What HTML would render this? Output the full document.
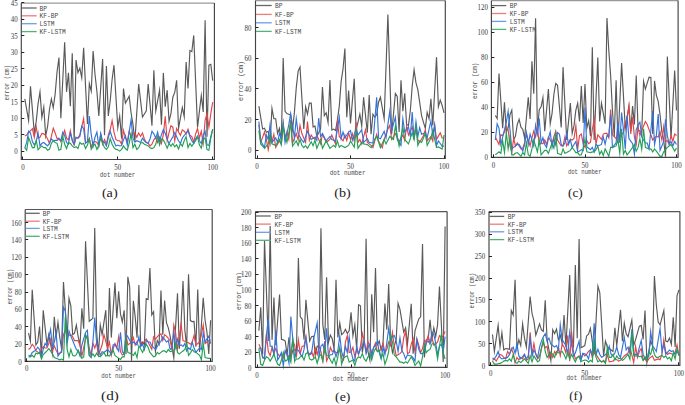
<!DOCTYPE html><html><head><meta charset="utf-8"><style>
html,body{margin:0;padding:0;background:#fff;width:685px;height:405px;overflow:hidden}
svg{display:block}
.t{font-family:"Liberation Serif",serif;font-size:8.2px;fill:#3a3a3a}
.m{font-family:"Liberation Mono",monospace;fill:#4a4a4a}
.c{font-family:"Liberation Serif",serif;font-size:13.2px;fill:#1a1a1a}
</style></head><body>
<svg width="685" height="405" viewBox="0 0 685 405">

<polyline points="24.8,98.89 26.7,109.63 28.59,120.37 30.49,86.22 32.39,109.59 34.29,132.96 36.19,121.64 38.08,103.59 39.98,91.85 41.88,117.41 43.78,107.04 45.68,135.93 47.57,126.74 49.47,109.46 51.37,98.89 53.27,107.78 55.17,93.9 57.06,71.77 58.96,57.48 60.86,118.15 62.76,80.19 64.66,42.22 66.55,91.85 68.45,72.89 70.35,106.3 72.25,53.33 74.15,141.85 76.04,60 77.94,72.59 79.84,68.15 81.74,77.78 83.64,47.7 85.53,85.89 87.43,124.07 89.33,83.7 91.23,91.11 93.13,51.11 95.02,74.46 96.92,91.5 98.82,115.93 100.72,87.44 102.62,58.96 104.51,135.19 106.41,65.93 108.31,115.93 110.21,100.7 112.11,79.46 114,65.19 115.9,96.37 117.8,127.56 119.7,116.11 121.6,138.58 123.49,88.46 125.39,103.15 127.29,99.69 129.19,96.23 131.09,112.98 132.98,124.38 134.88,141.17 136.78,112.65 138.68,84.14 140.58,100.56 142.47,116.98 144.37,113.95 146.27,110.93 148.17,84.14 150.07,104.88 151.96,125.62 153.86,70.31 155.76,110.93 157.66,100.56 159.56,90.19 161.45,124.75 163.35,72.9 165.25,106.6 167.15,90.19 169.05,121.3 170.94,113.67 172.84,97.23 174.74,92.47 176.64,80.33 178.54,128.21 180.43,117.84 182.33,107.47 184.23,116.77 186.13,62.01 188.03,88.46 189.92,50.43 191.82,51.64 193.72,35.4 195.62,81.37 197.52,127.35 199.41,111.36 201.31,95.37 203.21,111.93 205.11,20.19 207.01,136.85 208.9,65.12 210.8,64.26 212.7,80.68" fill="none" stroke="#595959" stroke-width="1.15" stroke-linejoin="miter" stroke-miterlimit="10"/>
<polyline points="24.8,135.99 26.7,135.12 28.59,132.1 30.49,130.8 32.39,128.64 34.29,137.28 36.19,126.91 38.08,138.15 39.98,137.28 41.88,133.4 43.78,133.83 45.68,135.56 47.57,139.01 49.47,143.33 51.37,136.42 53.27,128.21 55.17,132.96 57.06,138.58 58.96,138.15 60.86,141.6 62.76,136.42 64.66,130.37 66.55,138.15 68.45,139.88 70.35,130.8 72.25,140.74 74.15,145.06 76.04,137.28 77.94,138.15 79.84,134.69 81.74,126.91 83.64,118.53 85.53,142.47 87.43,142.04 89.33,138.15 91.23,146.79 93.13,142.47 95.02,141.6 96.92,142.47 98.82,145.93 100.72,134.26 102.62,144.2 104.51,139.44 106.41,144.2 108.31,135.12 110.21,129.51 112.11,120.69 114,132.1 115.9,139.44 117.8,140.74 119.7,140.74 121.6,144.2 123.49,130.37 125.39,137.28 127.29,141.6 129.19,131.23 131.09,136.42 132.98,133.83 134.88,132.96 136.78,137.28 138.68,132.96 140.58,136.42 142.47,132.96 144.37,139.01 146.27,142.47 148.17,143.33 150.07,145.93 151.96,144.2 153.86,139.88 155.76,137.28 157.66,142.47 159.56,137.28 161.45,143.33 163.35,134.69 165.25,116.3 167.15,140.74 169.05,132.59 170.94,125.8 172.84,127.16 174.74,140.74 176.64,128.52 178.54,131.91 180.43,135.31 182.33,129.88 184.23,131.23 186.13,133.95 188.03,129.2 189.92,135.31 191.82,136.67 193.72,142.1 195.62,133.95 197.52,128.52 199.41,138.02 201.31,131.23 203.21,143.46 205.11,120.37 207.01,113.58 208.9,127.16 210.8,113.58 212.7,102.04" fill="none" stroke="#e2454a" stroke-width="1.15" stroke-linejoin="miter" stroke-miterlimit="10"/>
<polyline points="24.8,147.87 26.7,142.47 28.59,131.23 30.49,132.96 32.39,141.6 34.29,145.06 36.19,141.6 38.08,132.96 39.98,145.93 41.88,143.33 43.78,142.47 45.68,144.2 47.57,145.93 49.47,143.33 51.37,139.01 53.27,140.74 55.17,140.31 57.06,140.31 58.96,139.01 60.86,140.74 62.76,132.1 64.66,135.56 66.55,142.47 68.45,144.2 70.35,132.96 72.25,139.88 74.15,144.2 76.04,137.28 77.94,138.15 79.84,136.42 81.74,126.05 83.64,128.64 85.53,143.33 87.43,141.6 89.33,116.11 91.23,134.69 93.13,145.93 95.02,137.28 96.92,132.1 98.82,145.93 100.72,133.4 102.62,141.6 104.51,142.47 106.41,145.93 108.31,137.28 110.21,131.23 112.11,137.28 114,141.6 115.9,145.93 117.8,145.06 119.7,145.93 121.6,145.49 123.49,139.88 125.39,135.56 127.29,145.06 129.19,132.1 131.09,119.57 132.98,138.15 134.88,142.04 136.78,140.74 138.68,141.6 140.58,142.47 142.47,138.15 144.37,140.74 146.27,142.47 148.17,143.33 150.07,139.01 151.96,131.23 153.86,133.83 155.76,138.15 157.66,132.1 159.56,141.6 161.45,134.69 163.35,129.51 165.25,133.4 167.15,139.38 169.05,143.46 170.94,140.06 172.84,136.67 174.74,132.59 176.64,136.67 178.54,140.74 180.43,143.46 182.33,138.02 184.23,135.31 186.13,133.27 188.03,130.56 189.92,136.67 191.82,140.74 193.72,143.46 195.62,138.7 197.52,135.99 199.41,140.74 201.31,143.46 203.21,135.31 205.11,131.23 207.01,144.81 208.9,145.49 210.8,136.67 212.7,129.2" fill="none" stroke="#3573d9" stroke-width="1.15" stroke-linejoin="miter" stroke-miterlimit="10"/>
<polyline points="24.8,147.65 26.7,150.25 28.59,137.72 30.49,142.47 32.39,147.65 34.29,147.65 36.19,140.31 38.08,149.81 39.98,147.65 41.88,145.93 43.78,147.65 45.68,147.65 47.57,150.25 49.47,149.38 51.37,143.33 53.27,140.74 55.17,142.47 57.06,143.33 58.96,150.25 60.86,149.38 62.76,136.42 64.66,144.2 66.55,148.52 68.45,142.76 70.35,143.33 72.25,145.93 74.15,147.65 76.04,146.79 77.94,148.52 79.84,142.47 81.74,144.2 83.64,143.33 85.53,148.52 87.43,145.06 89.33,139.01 91.23,149.38 93.13,145.93 95.02,144.2 96.92,149.38 98.82,145.06 100.72,138.15 102.62,143.33 104.51,147.65 106.41,149.38 108.31,146.79 110.21,138.58 112.11,144.2 114,147.65 115.9,149.38 117.8,149.81 119.7,151.11 121.6,149.38 123.49,145.93 125.39,148.52 127.29,150.25 129.19,143.33 131.09,133.83 132.98,147.65 134.88,144.2 136.78,149.38 138.68,147.65 140.58,143.33 142.47,142.47 144.37,144.2 146.27,145.06 148.17,145.93 150.07,147.65 151.96,148.52 153.86,147.65 155.76,144.2 157.66,136.42 159.56,145.06 161.45,139.01 163.35,139.88 165.25,143.64 167.15,148.21 169.05,143.46 170.94,146.17 172.84,143.46 174.74,146.85 176.64,144.81 178.54,148.89 180.43,143.46 182.33,146.17 184.23,140.74 186.13,136.67 188.03,147.53 189.92,143.46 191.82,146.17 193.72,143.46 195.62,140.74 197.52,136.67 199.41,144.81 201.31,148.21 203.21,139.38 205.11,138.02 207.01,149.57 208.9,150.25 210.8,138.02 212.7,129.2" fill="none" stroke="#23a055" stroke-width="1.15" stroke-linejoin="miter" stroke-miterlimit="10"/>
<path d="M21.3 3.1H214.4" stroke="#999" stroke-width="1.4" fill="none"/>
<path d="M21.3 3.1V159.5H214.4V3.1" stroke="#444" stroke-width="1.15" fill="none"/>
<path d="M21.3 151.5h3" stroke="#222" stroke-width="1"/>
<text class="t" x="17.6" y="154.4" text-anchor="end" textLength="3.45" lengthAdjust="spacingAndGlyphs">0</text>
<path d="M21.3 134.5h3" stroke="#222" stroke-width="1"/>
<text class="t" x="17.6" y="137.9" text-anchor="end" textLength="3.45" lengthAdjust="spacingAndGlyphs">5</text>
<path d="M21.3 118.5h3" stroke="#222" stroke-width="1"/>
<text class="t" x="17.6" y="121.4" text-anchor="end" textLength="6.9" lengthAdjust="spacingAndGlyphs">10</text>
<path d="M21.3 101.5h3" stroke="#222" stroke-width="1"/>
<text class="t" x="17.6" y="104.9" text-anchor="end" textLength="6.9" lengthAdjust="spacingAndGlyphs">15</text>
<path d="M21.3 85.5h3" stroke="#222" stroke-width="1"/>
<text class="t" x="17.6" y="88.4" text-anchor="end" textLength="6.9" lengthAdjust="spacingAndGlyphs">20</text>
<path d="M21.3 68.5h3" stroke="#222" stroke-width="1"/>
<text class="t" x="17.6" y="71.9" text-anchor="end" textLength="6.9" lengthAdjust="spacingAndGlyphs">25</text>
<path d="M21.3 52.5h3" stroke="#222" stroke-width="1"/>
<text class="t" x="17.6" y="55.4" text-anchor="end" textLength="6.9" lengthAdjust="spacingAndGlyphs">30</text>
<path d="M21.3 35.5h3" stroke="#222" stroke-width="1"/>
<text class="t" x="17.6" y="38.9" text-anchor="end" textLength="6.9" lengthAdjust="spacingAndGlyphs">35</text>
<path d="M21.3 19.5h3" stroke="#222" stroke-width="1"/>
<text class="t" x="17.6" y="22.4" text-anchor="end" textLength="6.9" lengthAdjust="spacingAndGlyphs">40</text>
<path d="M21.3 2.5h3" stroke="#222" stroke-width="1"/>
<text class="t" x="17.6" y="5.9" text-anchor="end" textLength="6.9" lengthAdjust="spacingAndGlyphs">45</text>
<path d="M22.5 159.5v-3" stroke="#222" stroke-width="1"/>
<text class="t" x="22.9" y="169.5" text-anchor="middle" textLength="3.45" lengthAdjust="spacingAndGlyphs">0</text>
<path d="M117.5 159.5v-3" stroke="#222" stroke-width="1"/>
<text class="t" x="117.8" y="169.5" text-anchor="middle" textLength="6.9" lengthAdjust="spacingAndGlyphs">50</text>
<path d="M212.5 159.5v-3" stroke="#222" stroke-width="1"/>
<text class="t" x="212.7" y="169.5" text-anchor="middle" textLength="10.35" lengthAdjust="spacingAndGlyphs">100</text>
<path d="M22 8H36.7" stroke="#666" stroke-width="1.3"/>
<text class="m" x="39.5" y="10.5" font-size="7.8" textLength="7.5" lengthAdjust="spacingAndGlyphs">BP</text>
<path d="M22 15.8H36.7" stroke="#ee7a7e" stroke-width="1.3"/>
<text class="m" x="39.5" y="18.3" font-size="7.8" textLength="18.75" lengthAdjust="spacingAndGlyphs">KF-BP</text>
<path d="M22 23.7H36.7" stroke="#6d9ce6" stroke-width="1.3"/>
<text class="m" x="39.5" y="26.2" font-size="7.8" textLength="15" lengthAdjust="spacingAndGlyphs">LSTM</text>
<path d="M22 31.6H36.7" stroke="#4fb37a" stroke-width="1.3"/>
<text class="m" x="39.5" y="34.1" font-size="7.8" textLength="26.25" lengthAdjust="spacingAndGlyphs">KF-LSTM</text>
<text class="m" font-size="8" transform="translate(8.6 82.7) rotate(-90)" x="0" y="0" text-anchor="middle" textLength="35.6" lengthAdjust="spacingAndGlyphs">error (cm)</text>
<text class="m" font-size="8" x="99.8" y="176.9" textLength="35.6" lengthAdjust="spacingAndGlyphs">dot number</text>
<text class="c" x="101.9" y="197.2" textLength="15.7" lengthAdjust="spacingAndGlyphs">(a)</text>
<polyline points="258.87,106.11 260.74,117.59 262.61,129.07 264.48,128.33 266.35,132.3 268.22,131.3 270.09,142.41 271.96,108.33 273.83,118.7 275.7,118.7 277.57,133.52 279.44,128.33 281.31,140.93 283.18,58.07 285.05,111.3 286.92,113.52 288.79,114.26 290.66,115 292.53,129.81 294.4,112.38 296.27,87.57 298.14,71.11 300.01,67.11 301.88,98.09 303.75,129.07 305.62,106.85 307.49,114.26 309.36,103.15 311.23,103.15 313.1,126.85 314.97,126.11 316.84,136.48 318.71,132.78 320.58,129.07 322.45,87.11 324.32,115.74 326.19,112.78 328.06,122.41 329.93,80 331.8,130.07 333.67,129.07 335.54,130.56 337.41,120.19 339.28,106.16 341.15,81.4 343.02,69.04 344.89,48.59 346.76,117.22 348.63,90.46 350.5,123.52 352.37,101.14 354.24,78.76 356.11,129.81 357.98,122.04 359.85,114.26 361.72,126.11 363.59,97.22 365.46,115 367.33,132.78 369.2,95 371.07,134.26 372.94,114.26 374.81,117.22 376.68,114.5 378.55,102.18 380.42,97.22 382.29,107.96 384.16,118.7 386.03,66.67 387.9,14.63 389.77,74.44 391.64,134.26 393.51,113.89 395.38,93.52 397.25,96.48 399.12,132.04 400.99,80.19 402.86,111.3 404.73,93.22 406.6,124.63 408.47,125.37 410.34,110.51 412.21,86.04 414.08,69.81 415.95,82.63 417.82,89.66 419.69,102.41 421.56,115.74 423.43,122.04 425.3,128.33 427.17,112.41 429.04,118.7 430.91,98.7 432.78,125.37 434.65,91.26 436.52,57.15 438.39,106.85 440.26,100.19 442.13,105.37 444,112.78" fill="none" stroke="#595959" stroke-width="1.15" stroke-linejoin="miter" stroke-miterlimit="10"/>
<polyline points="258.87,124.63 260.74,142.41 262.61,137.22 264.48,132.04 266.35,139.44 268.22,149.81 270.09,139.44 271.96,142.22 273.83,134.26 275.7,147.59 277.57,144.26 279.44,140.93 281.31,143.89 283.18,123.15 285.05,138.7 286.92,132.04 288.79,139.26 290.66,120.19 292.53,143.15 294.4,138.33 296.27,133.52 298.14,139.85 300.01,125.37 301.88,133.52 303.75,137.96 305.62,142.41 307.49,121.67 309.36,140.44 311.23,135 313.1,137.96 314.97,139.44 316.84,135 318.71,139.44 320.58,143.89 322.45,134.26 324.32,138.33 326.19,142.41 328.06,140.93 329.93,139.44 331.8,135 333.67,139.44 335.54,143.89 337.41,121.67 339.28,136.48 341.15,138.7 343.02,140.93 344.89,135 346.76,140.44 348.63,132.78 350.5,139.44 352.37,133.52 354.24,140.93 356.11,122.41 357.98,142.22 359.85,139.44 361.72,143.89 363.59,136.85 365.46,129.81 367.33,142.41 369.2,143.89 371.07,145.37 372.94,147.59 374.81,140.93 376.68,134.26 378.55,140.93 380.42,144.26 382.29,147.59 384.16,139.44 386.03,134.26 387.9,129.07 389.77,125.37 391.64,139.44 393.51,136.48 395.38,133.52 397.25,137.59 399.12,141.67 400.99,138.33 402.86,135 404.73,140.44 406.6,126.11 408.47,135 410.34,130.93 412.21,126.85 414.08,137.48 415.95,127.59 417.82,139.44 419.69,142.41 421.56,139.07 423.43,135.74 425.3,129.81 427.17,140.93 429.04,138.7 430.91,136.48 432.78,141.04 434.65,125.37 436.52,139.44 438.39,136.11 440.26,132.78 442.13,137.96 444,137.96" fill="none" stroke="#e2454a" stroke-width="1.15" stroke-linejoin="miter" stroke-miterlimit="10"/>
<polyline points="258.87,121.67 260.74,140.93 262.61,144.26 264.48,147.59 266.35,135 268.22,139.56 270.09,124.63 271.96,142.41 273.83,140.19 275.7,137.96 277.57,142.41 279.44,133.52 281.31,138.96 283.18,123.15 285.05,142.41 286.92,133.52 288.79,124.63 290.66,113.52 292.53,125.74 294.4,137.96 296.27,118.7 298.14,133.52 300.01,136.85 301.88,140.19 303.75,142.41 305.62,136.85 307.49,131.3 309.36,135.37 311.23,139.44 313.1,138.33 314.97,137.22 316.84,140.44 318.71,117.96 320.58,136.48 322.45,133.52 324.32,137.22 326.19,140.93 328.06,138.7 329.93,136.48 331.8,139.44 333.67,140.19 335.54,140.93 337.41,129.07 339.28,117.22 341.15,138.37 343.02,132.04 344.89,137.96 346.76,135 348.63,132.04 350.5,130.56 352.37,140.19 354.24,134.63 356.11,129.07 357.98,135 359.85,132.41 361.72,129.81 363.59,142.41 365.46,140.56 367.33,138.7 369.2,142.41 371.07,142.78 372.94,143.15 374.81,120.19 376.68,97.22 378.55,137.96 380.42,138.7 382.29,135 384.16,131.3 386.03,137.96 387.9,124.63 389.77,111.3 391.64,130.56 393.51,123.89 395.38,117.22 397.25,139.44 399.12,142.41 400.99,145.37 402.86,118.7 404.73,132.04 406.6,129.44 408.47,126.85 410.34,136.3 412.21,112.04 414.08,139.44 415.95,121.67 417.82,136.59 419.69,127.59 421.56,134.26 423.43,133.52 425.3,132.78 427.17,137.96 429.04,129.44 430.91,120.93 432.78,135.41 434.65,124.63 436.52,145.37 438.39,140.93 440.26,143.52 442.13,146.11 444,146.11" fill="none" stroke="#3573d9" stroke-width="1.15" stroke-linejoin="miter" stroke-miterlimit="10"/>
<polyline points="258.87,130.56 260.74,143.89 262.61,146.11 264.48,148.33 266.35,146.11 268.22,143.89 270.09,135 271.96,143.89 273.83,144.63 275.7,145.37 277.57,142.41 279.44,139.44 281.31,144.89 283.18,126.85 285.05,134.63 286.92,142.41 288.79,132.78 290.66,123.15 292.53,146.11 294.4,143.52 296.27,140.93 298.14,145.48 300.01,139.44 301.88,145.37 303.75,147.53 305.62,145.57 307.49,148.33 309.36,145 311.23,141.67 313.1,145.78 314.97,140.19 316.84,148.33 318.71,143.89 320.58,139.44 322.45,148.33 324.32,144.63 326.19,140.93 328.06,144.63 329.93,148.33 331.8,146.85 333.67,145.37 335.54,147.26 337.41,140.93 339.28,147.26 341.15,145.37 343.02,146.48 344.89,147.59 346.76,146.48 348.63,145.37 350.5,140.93 352.37,144.07 354.24,147.22 356.11,130.56 357.98,148.33 359.85,145.37 361.72,142.41 363.59,143.89 365.46,144.26 367.33,144.63 369.2,146.11 371.07,147.59 372.94,144.91 374.81,138.69 376.68,136.48 378.55,142.04 380.42,147.59 382.29,143.52 384.16,139.44 386.03,143.89 387.9,140.19 389.77,136.48 391.64,137.96 393.51,139.44 395.38,126.11 397.25,136.11 399.12,146.11 400.99,136.85 402.86,127.59 404.73,139.44 406.6,141.67 408.47,143.89 410.34,138.33 412.21,132.78 414.08,139.44 415.95,126.11 417.82,145.48 419.69,140.93 421.56,142.41 423.43,137.96 425.3,133.52 427.17,145.37 429.04,141.67 430.91,137.96 432.78,130.56 434.65,139.07 436.52,147.59 438.39,146.85 440.26,147.96 442.13,149.07 444,135" fill="none" stroke="#23a055" stroke-width="1.15" stroke-linejoin="miter" stroke-miterlimit="10"/>
<path d="M255.5 0.6H445.3" stroke="#999" stroke-width="1.4" fill="none"/>
<path d="M255.5 0.6V158.45H445.3V0.6" stroke="#444" stroke-width="1.15" fill="none"/>
<path d="M255.5 150.5h3" stroke="#222" stroke-width="1"/>
<text class="t" x="251.4" y="153.4" text-anchor="end" textLength="3.45" lengthAdjust="spacingAndGlyphs">0</text>
<path d="M255.5 119.5h3" stroke="#222" stroke-width="1"/>
<text class="t" x="251.4" y="122.7" text-anchor="end" textLength="6.9" lengthAdjust="spacingAndGlyphs">20</text>
<path d="M255.5 88.5h3" stroke="#222" stroke-width="1"/>
<text class="t" x="251.4" y="92" text-anchor="end" textLength="6.9" lengthAdjust="spacingAndGlyphs">40</text>
<path d="M255.5 58.5h3" stroke="#222" stroke-width="1"/>
<text class="t" x="251.4" y="61.3" text-anchor="end" textLength="6.9" lengthAdjust="spacingAndGlyphs">60</text>
<path d="M255.5 27.5h3" stroke="#222" stroke-width="1"/>
<text class="t" x="251.4" y="30.6" text-anchor="end" textLength="6.9" lengthAdjust="spacingAndGlyphs">80</text>
<path d="M257.5 158.45v-3" stroke="#222" stroke-width="1"/>
<text class="t" x="257" y="169.2" text-anchor="middle" textLength="3.45" lengthAdjust="spacingAndGlyphs">0</text>
<path d="M350.5 158.45v-3" stroke="#222" stroke-width="1"/>
<text class="t" x="350.5" y="169.2" text-anchor="middle" textLength="6.9" lengthAdjust="spacingAndGlyphs">50</text>
<path d="M444.5 158.45v-3" stroke="#222" stroke-width="1"/>
<text class="t" x="444" y="169.2" text-anchor="middle" textLength="10.35" lengthAdjust="spacingAndGlyphs">100</text>
<path d="M256 5.5H271.7" stroke="#666" stroke-width="1.3"/>
<text class="m" x="275" y="8" font-size="7.8" textLength="7.5" lengthAdjust="spacingAndGlyphs">BP</text>
<path d="M256 14.4H271.7" stroke="#ee7a7e" stroke-width="1.3"/>
<text class="m" x="275" y="16.9" font-size="7.8" textLength="18.75" lengthAdjust="spacingAndGlyphs">KF-BP</text>
<path d="M256 22.8H271.7" stroke="#6d9ce6" stroke-width="1.3"/>
<text class="m" x="275" y="25.3" font-size="7.8" textLength="15" lengthAdjust="spacingAndGlyphs">LSTM</text>
<path d="M256 31.4H271.7" stroke="#4fb37a" stroke-width="1.3"/>
<text class="m" x="275" y="33.9" font-size="7.8" textLength="26.25" lengthAdjust="spacingAndGlyphs">KF-LSTM</text>
<text class="m" font-size="8" transform="translate(242.6 81) rotate(-90)" x="0" y="0" text-anchor="middle" textLength="40" lengthAdjust="spacingAndGlyphs">error (cm)</text>
<text class="m" font-size="8" x="329.7" y="175.4" textLength="35.8" lengthAdjust="spacingAndGlyphs">dot number</text>
<text class="c" x="334.3" y="197" textLength="16.5" lengthAdjust="spacingAndGlyphs">(b)</text>
<polyline points="495.33,115.56 497.16,118.52 498.99,73.52 500.82,100.83 502.65,128.15 504.48,102.41 506.31,131.85 508.14,127.74 509.97,114.86 511.8,110.11 513.63,140 515.46,136 517.29,124.42 519.12,119.26 520.95,127.18 522.78,129.51 524.61,137.78 526.44,117.5 528.27,97.22 530.1,119 531.93,61.22 533.76,93.81 535.59,18.33 537.42,131.11 539.25,109.81 541.08,106.85 542.91,97.67 544.74,131.11 546.57,110.09 548.4,89.07 550.23,123.7 552.06,113.52 553.89,94.24 555.72,83.44 557.55,85.37 559.38,106.39 561.21,127.41 563.04,67.15 564.87,103.57 566.7,140 568.53,121.57 570.36,103.15 572.19,133.33 574.02,125.63 575.85,110.2 577.68,103.15 579.51,121.37 581.34,86.11 583.17,122.96 585,84.11 586.83,128.41 588.66,120.74 590.49,136.3 592.32,47.22 594.15,140 595.98,98.8 597.81,57.59 599.64,121.37 601.47,103.15 603.3,113.43 605.13,123.7 606.96,18.04 608.79,50.47 610.62,75.22 612.45,110.79 614.28,137.04 616.11,80.19 617.94,142.96 619.77,103.04 621.6,63.11 623.43,95.63 625.26,128.15 627.09,117.13 628.92,106.11 630.75,131.11 632.58,106.11 634.41,124.44 636.24,75.44 638.07,129.63 639.9,131.11 641.73,132.59 643.56,81.37 645.39,89.07 647.22,83.15 649.05,77.22 650.88,77.52 652.71,134.07 654.54,80.93 656.37,95.5 658.2,101.33 660.03,114.81 661.86,131.87 663.69,140.1 665.52,156.7 667.35,56.56 669.18,97.54 671.01,138.52 672.84,104.54 674.67,70.56 676.5,110.37" fill="none" stroke="#595959" stroke-width="1.15" stroke-linejoin="miter" stroke-miterlimit="10"/>
<polyline points="495.33,137.04 497.16,140.74 498.99,144.44 500.82,134.81 502.65,135.56 504.48,131.85 506.31,126.67 508.14,129.63 509.97,145.93 511.8,152.59 513.63,138.52 515.46,145.93 517.29,142.96 519.12,145.93 520.95,148.89 522.78,148.15 524.61,142.96 526.44,134.07 528.27,140 530.1,145.93 531.93,137.78 533.76,131.11 535.59,137.04 537.42,127.41 539.25,144.41 541.08,142.96 542.91,143.7 544.74,140 546.57,144.44 548.4,137.04 550.23,140 552.06,142.96 553.89,137.04 555.72,131.11 557.55,140 559.38,142.96 561.21,145.93 563.04,145.93 564.87,137.04 566.7,145.93 568.53,142.59 570.36,139.26 572.19,140 574.02,138.52 575.85,125.93 577.68,148.89 579.51,135.56 581.34,134.07 583.17,143.7 585,147.41 586.83,140.74 588.66,143.7 590.49,142.22 592.32,129.63 594.15,119.26 595.98,144.44 597.81,134.81 599.64,137.04 601.47,139.26 603.3,134.07 605.13,133.33 606.96,133.33 608.79,137.78 610.62,109.63 612.45,134.81 614.28,136.67 616.11,138.52 617.94,136.3 619.77,137.04 621.6,134.81 623.43,132.59 625.26,122.22 627.09,119.26 628.92,105.93 630.75,134.04 632.58,117.04 634.41,137.04 636.24,144.44 638.07,127.41 639.9,135.56 641.73,130.74 643.56,125.93 645.39,121.48 647.22,124.44 649.05,129.63 650.88,134.81 652.71,140 654.54,137.78 656.37,136.3 658.2,137.04 660.03,131.85 661.86,139.96 663.69,126.67 665.52,141.48 667.35,140.74 669.18,144.44 671.01,135.56 672.84,141.44 674.67,134.07 676.5,135.56" fill="none" stroke="#e2454a" stroke-width="1.15" stroke-linejoin="miter" stroke-miterlimit="10"/>
<polyline points="495.33,140 497.16,123.7 498.99,128.15 500.82,144.44 502.65,137.04 504.48,129.63 506.31,122.22 508.14,111.11 509.97,129.63 511.8,148.89 513.63,147.41 515.46,145.93 517.29,144.44 519.12,144.44 520.95,147.41 522.78,151.11 524.61,144.44 526.44,132.59 528.27,144.44 530.1,134.07 531.93,140 533.76,145.93 535.59,125.19 537.42,134.07 539.25,118.52 541.08,142.96 542.91,137.78 544.74,144.44 546.57,147.41 548.4,138.52 550.23,131.85 552.06,147.41 553.89,138.52 555.72,144.85 557.55,132.59 559.38,134.07 561.21,144.44 563.04,145.93 564.87,142.96 566.7,133.33 568.53,144.44 570.36,140 572.19,147.41 574.02,144.44 575.85,141.48 577.68,151.85 579.51,151.11 581.34,149.63 583.17,150.63 585,107.41 586.83,147.04 588.66,148.33 590.49,149.63 592.32,147.41 594.15,151.85 595.98,144.44 597.81,145.93 599.64,145.19 601.47,144.44 603.3,137.04 605.13,144.26 606.96,135.56 608.79,136.3 610.62,114.07 612.45,147.41 614.28,145.19 616.11,142.96 617.94,121.48 619.77,142.96 621.6,112.59 623.43,129.63 625.26,148.89 627.09,115.56 628.92,138.52 630.75,141.11 632.58,143.7 634.41,154.07 636.24,129.63 638.07,125.19 639.9,122.22 641.73,137.04 643.56,140 645.39,142.96 647.22,142.96 649.05,148.89 650.88,130 652.71,111.11 654.54,144.44 656.37,135.56 658.2,114.07 660.03,150.37 661.86,145.93 663.69,141.48 665.52,119.26 667.35,135.56 669.18,144.44 671.01,141.48 672.84,146.04 674.67,141.48 676.5,144.44" fill="none" stroke="#3573d9" stroke-width="1.15" stroke-linejoin="miter" stroke-miterlimit="10"/>
<polyline points="495.33,154.81 497.16,153.33 498.99,151.85 500.82,153.33 502.65,140.74 504.48,152.59 506.31,132.59 508.14,148.7 509.97,137.04 511.8,154.81 513.63,154.81 515.46,153.33 517.29,152.59 519.12,154.44 520.95,156.3 522.78,152.59 524.61,154.93 526.44,142.96 528.27,154.81 530.1,156.3 531.93,148.89 533.76,140 535.59,145.93 537.42,151.85 539.25,140 541.08,154.81 542.91,152.59 544.74,150.37 546.57,150.37 548.4,153.33 550.23,148.15 552.06,142.96 553.89,148.15 555.72,134.07 557.55,153.33 559.38,154.07 561.21,154.81 563.04,148.89 564.87,153.33 566.7,152.59 568.53,151.48 570.36,150.37 572.19,147.41 574.02,150 575.85,152.59 577.68,152.59 579.51,155.19 581.34,154.81 583.17,148.89 585,138.89 586.83,151.85 588.66,152.22 590.49,152.59 592.32,151.85 594.15,151.85 595.98,149.63 597.81,145.93 599.64,154.33 601.47,151.11 603.3,155.56 605.13,148.89 606.96,152.59 608.79,156.3 610.62,147.41 612.45,147.41 614.28,146.67 616.11,145.93 617.94,140 619.77,153.33 621.6,128.89 623.43,154.04 625.26,150.37 627.09,154.81 628.92,152.59 630.75,150 632.58,147.41 634.41,144.44 636.24,151.11 638.07,147.41 639.9,138.52 641.73,149.3 643.56,128.89 645.39,147.41 647.22,148.15 649.05,148.89 650.88,148.89 652.71,151.85 654.54,148.89 656.37,151.11 658.2,153.7 660.03,156.3 661.86,156.3 663.69,151.85 665.52,149.63 667.35,147.41 669.18,145.93 671.01,144.44 672.84,147.78 674.67,151.11 676.5,148.15" fill="none" stroke="#23a055" stroke-width="1.15" stroke-linejoin="miter" stroke-miterlimit="10"/>
<path d="M491.4 0.6H678.1" stroke="#999" stroke-width="1.4" fill="none"/>
<path d="M491.4 0.6V157.3H678.1V0.6" stroke="#444" stroke-width="1.15" fill="none"/>
<path d="M491.4 157.5h3" stroke="#222" stroke-width="1"/>
<text class="t" x="487.9" y="160.3" text-anchor="end" textLength="3.45" lengthAdjust="spacingAndGlyphs">0</text>
<path d="M491.4 132.5h3" stroke="#222" stroke-width="1"/>
<text class="t" x="487.9" y="135.3" text-anchor="end" textLength="6.9" lengthAdjust="spacingAndGlyphs">20</text>
<path d="M491.4 107.5h3" stroke="#222" stroke-width="1"/>
<text class="t" x="487.9" y="110.3" text-anchor="end" textLength="6.9" lengthAdjust="spacingAndGlyphs">40</text>
<path d="M491.4 82.5h3" stroke="#222" stroke-width="1"/>
<text class="t" x="487.9" y="85.3" text-anchor="end" textLength="6.9" lengthAdjust="spacingAndGlyphs">60</text>
<path d="M491.4 57.5h3" stroke="#222" stroke-width="1"/>
<text class="t" x="487.9" y="60.3" text-anchor="end" textLength="6.9" lengthAdjust="spacingAndGlyphs">80</text>
<path d="M491.4 32.5h3" stroke="#222" stroke-width="1"/>
<text class="t" x="487.9" y="35.3" text-anchor="end" textLength="10.35" lengthAdjust="spacingAndGlyphs">100</text>
<path d="M491.4 7.5h3" stroke="#222" stroke-width="1"/>
<text class="t" x="487.9" y="10.3" text-anchor="end" textLength="10.35" lengthAdjust="spacingAndGlyphs">120</text>
<path d="M493.5 157.3v-3" stroke="#222" stroke-width="1"/>
<text class="t" x="493.5" y="167.9" text-anchor="middle" textLength="3.45" lengthAdjust="spacingAndGlyphs">0</text>
<path d="M585.5 157.3v-3" stroke="#222" stroke-width="1"/>
<text class="t" x="585" y="167.9" text-anchor="middle" textLength="6.9" lengthAdjust="spacingAndGlyphs">50</text>
<path d="M676.5 157.3v-3" stroke="#222" stroke-width="1"/>
<text class="t" x="676.5" y="167.9" text-anchor="middle" textLength="10.35" lengthAdjust="spacingAndGlyphs">100</text>
<path d="M492 5.6H506.3" stroke="#666" stroke-width="1.3"/>
<text class="m" x="509.8" y="8.1" font-size="7.8" textLength="7.5" lengthAdjust="spacingAndGlyphs">BP</text>
<path d="M492 13.5H506.3" stroke="#ee7a7e" stroke-width="1.3"/>
<text class="m" x="509.8" y="16" font-size="7.8" textLength="18.75" lengthAdjust="spacingAndGlyphs">KF-BP</text>
<path d="M492 21.4H506.3" stroke="#6d9ce6" stroke-width="1.3"/>
<text class="m" x="509.8" y="23.9" font-size="7.8" textLength="15" lengthAdjust="spacingAndGlyphs">LSTM</text>
<path d="M492 29.4H506.3" stroke="#4fb37a" stroke-width="1.3"/>
<text class="m" x="509.8" y="31.9" font-size="7.8" textLength="26.25" lengthAdjust="spacingAndGlyphs">KF-LSTM</text>
<text class="m" font-size="8" transform="translate(477 80.75) rotate(-90)" x="0" y="0" text-anchor="middle" textLength="36.3" lengthAdjust="spacingAndGlyphs">error (cm)</text>
<text class="m" font-size="8" x="567.9" y="174.1" textLength="33.6" lengthAdjust="spacingAndGlyphs">dot number</text>
<text class="c" x="568" y="197" textLength="14.8" lengthAdjust="spacingAndGlyphs">(c)</text>
<polyline points="28.54,333.15 30.38,341.3 32.22,289.89 34.06,317.44 35.89,345 37.73,342.04 39.57,326.48 41.41,355.37 43.25,310.19 45.09,327.22 46.93,344.26 48.77,334.63 50.61,344.26 52.45,353.89 54.28,316.85 56.12,336.96 57.96,322.41 59.8,337.59 61.64,349.44 63.48,282.04 65.32,309.81 67.16,337.59 69,298.33 70.84,305.74 72.67,334.63 74.51,333.15 76.35,325 78.19,336.85 80.03,345 81.87,308.26 83.71,328.7 85.55,241.37 87.39,281.33 89.23,321.3 91.06,319.81 92.9,318.33 94.74,228.04 96.58,330.93 98.42,353.89 100.26,325 102.1,334.63 103.94,322.41 105.78,310.19 107.62,355.37 109.45,287.96 111.29,337.59 113.13,310.04 114.97,282.48 116.81,318.33 118.65,291.26 120.49,313.89 122.33,321.98 124.17,310.27 126.01,354.24 127.84,276.85 129.68,287.22 131.52,360.75 133.36,300.71 135.2,316.85 137.04,337.8 138.88,285 140.72,345.7 142.56,342.04 144.4,344.81 146.23,298.61 148.07,299.48 149.91,268.04 151.75,314.91 153.59,311.7 155.43,351.63 157.27,340.56 159.11,344.22 160.95,290.48 162.79,334.84 164.62,300.43 166.46,322.69 168.3,327.93 170.14,336.11 171.98,347.03 173.82,357.94 175.66,325.62 177.5,293.3 179.34,348.67 181.18,321.3 183.01,281 184.85,330.19 186.69,346.69 188.53,274.3 190.37,320.59 192.21,321.6 194.05,321.45 195.89,346.69 197.73,289.44 199.57,352.02 201.4,324.88 203.24,297.75 205.08,320.16 206.92,331.82 208.76,353.89 210.6,320.18" fill="none" stroke="#595959" stroke-width="1.15" stroke-linejoin="miter" stroke-miterlimit="10"/>
<polyline points="28.54,349.44 30.38,347.96 32.22,344.26 34.06,346.48 35.89,350.93 37.73,352.04 39.57,353.15 41.41,349.44 43.25,346.48 45.09,347.96 46.93,347.96 48.77,343.52 50.61,339.07 52.45,350.93 54.28,345.74 56.12,350.19 57.96,353.89 59.8,353.15 61.64,352.41 63.48,334.63 65.32,330.19 67.16,336.11 69,335.37 70.84,334.63 72.67,336.85 74.51,340.56 76.35,340.56 78.19,340.56 80.03,345.74 81.87,356.11 83.71,347.59 85.55,339.07 87.39,335.37 89.23,347.96 91.06,355.37 92.9,343.52 94.74,348.07 96.58,342.78 98.42,355.37 100.26,350.19 102.1,345 103.94,334.63 105.78,341.3 107.62,347.96 109.45,342.04 111.29,355.37 113.13,348.7 114.97,343.52 116.81,348.07 118.65,336.85 120.49,351.67 122.33,355 124.17,353.89 126.01,333.89 127.84,345 129.68,343.52 131.52,342.04 133.36,337.59 135.2,345 137.04,341.3 138.88,339.81 140.72,341.67 142.56,343.52 144.4,341.3 146.23,339.07 148.07,342.04 149.91,345.74 151.75,349.44 153.59,336.85 155.43,339.07 157.27,336.85 159.11,334.63 160.95,333.89 162.79,340.56 164.62,334.63 166.46,336.11 168.3,338.33 170.14,340.56 171.98,349.44 173.82,325 175.66,333.15 177.5,349.44 179.34,336.85 181.18,324.26 183.01,340.56 184.85,341.3 186.69,342.04 188.53,342.78 190.37,344.26 192.21,342.04 194.05,335.37 195.89,345 197.73,343.52 199.57,342.04 201.4,334.63 203.24,325 205.08,343.52 206.92,342.04 208.76,340.56 210.6,339.81" fill="none" stroke="#e2454a" stroke-width="1.15" stroke-linejoin="miter" stroke-miterlimit="10"/>
<polyline points="28.54,355.37 30.38,356.11 32.22,352.41 34.06,351.3 35.89,350.19 37.73,347.22 39.57,349.44 41.41,356.85 43.25,349.44 45.09,343.52 46.93,345.74 48.77,337.59 50.61,329.44 52.45,347.96 54.28,342.04 56.12,332.41 57.96,356.11 59.8,353.52 61.64,350.93 63.48,307.22 65.32,310.93 67.16,343.52 69,330.93 70.84,336.11 72.67,340.56 74.51,345 76.35,349.44 78.19,350.93 80.03,356.11 81.87,345 83.71,338.7 85.55,332.41 87.39,330.19 89.23,355.37 91.06,357.59 92.9,342.04 94.74,317.59 96.58,342.04 98.42,348.7 100.26,355.37 102.1,351.67 103.94,352.41 105.78,350.93 107.62,349.44 109.45,351.67 111.29,353.89 113.13,345 114.97,344.26 116.81,347.78 118.65,351.3 120.49,332.41 122.33,351.67 124.17,353.89 126.01,333.89 127.84,336.85 129.68,340.19 131.52,343.52 133.36,342.04 135.2,343.52 137.04,345 138.88,336.85 140.72,346.48 142.56,344.26 144.4,349.48 146.23,340.56 148.07,342.04 149.91,342.04 151.75,345.74 153.59,347.59 155.43,349.44 157.27,346.48 159.11,343.52 160.95,341.3 162.79,336.85 164.62,339.44 166.46,342.04 168.3,340.56 170.14,349.44 171.98,347.96 173.82,332.41 175.66,347.41 177.5,339.07 179.34,345.74 181.18,345 183.01,346.48 184.85,343.52 186.69,350.96 188.53,347.96 190.37,349.44 192.21,342.04 194.05,347.96 195.89,352.41 197.73,350.19 199.57,347.96 201.4,349.44 203.24,333.15 205.08,342.04 206.92,339.07 208.76,336.11 210.6,343.52" fill="none" stroke="#3573d9" stroke-width="1.15" stroke-linejoin="miter" stroke-miterlimit="10"/>
<polyline points="28.54,356.85 30.38,356.85 32.22,355.37 34.06,357.26 35.89,353.15 37.73,353.89 39.57,352.41 41.41,359.07 43.25,354.63 45.09,352.78 46.93,350.93 48.77,348.7 50.61,350.93 52.45,353.89 54.28,357.59 56.12,358.33 57.96,359.07 59.8,359.81 61.64,359.07 63.48,360.07 65.32,316.85 67.16,349.44 69,356.85 70.84,349.44 72.67,355.37 74.51,356.11 76.35,354.63 78.19,350.19 80.03,354.26 81.87,358.33 83.71,356.85 85.55,334.63 87.39,339.07 89.23,355.37 91.06,356.85 92.9,353.89 94.74,356.67 96.58,353.15 98.42,356.11 100.26,356.85 102.1,354.63 103.94,352.41 105.78,356.11 107.62,355.37 109.45,356.11 111.29,353.15 113.13,350.19 114.97,355.37 116.81,356.85 118.65,358.33 120.49,359.44 122.33,356.85 124.17,356.85 126.01,339.07 127.84,352.41 129.68,353.15 131.52,353.89 133.36,355.37 135.2,352.41 137.04,357.59 138.88,345.74 140.72,349.07 142.56,352.41 144.4,347.96 146.23,344.26 148.07,347.22 149.91,352.41 151.75,354.63 153.59,356.85 155.43,356.11 157.27,352.41 159.11,353.89 160.95,352.41 162.79,350.93 164.62,350.93 166.46,352.41 168.3,349.44 170.14,351.67 171.98,351.3 173.82,350.93 175.66,343.52 177.5,352.41 179.34,353.89 181.18,352.41 183.01,350.93 184.85,349.44 186.69,343.52 188.53,355.37 190.37,353.15 192.21,349.44 194.05,351.67 195.89,352.41 197.73,353.89 199.57,355.37 201.4,359.81 203.24,343.52 205.08,357.59 206.92,357.96 208.76,358.33 210.6,358.33" fill="none" stroke="#23a055" stroke-width="1.15" stroke-linejoin="miter" stroke-miterlimit="10"/>
<path d="M25.2 209.5H212.2" stroke="#555" stroke-width="1.1" fill="none"/>
<path d="M25.2 209.5V361.35H212.2V209.5" stroke="#444" stroke-width="1.15" fill="none"/>
<path d="M25.2 361.5h3" stroke="#222" stroke-width="1"/>
<text class="t" x="21.6" y="364.5" text-anchor="end" textLength="3.45" lengthAdjust="spacingAndGlyphs">0</text>
<path d="M25.2 344.5h3" stroke="#222" stroke-width="1"/>
<text class="t" x="21.6" y="347.15" text-anchor="end" textLength="6.9" lengthAdjust="spacingAndGlyphs">20</text>
<path d="M25.2 326.5h3" stroke="#222" stroke-width="1"/>
<text class="t" x="21.6" y="329.8" text-anchor="end" textLength="6.9" lengthAdjust="spacingAndGlyphs">40</text>
<path d="M25.2 309.5h3" stroke="#222" stroke-width="1"/>
<text class="t" x="21.6" y="312.45" text-anchor="end" textLength="6.9" lengthAdjust="spacingAndGlyphs">60</text>
<path d="M25.2 292.5h3" stroke="#222" stroke-width="1"/>
<text class="t" x="21.6" y="295.1" text-anchor="end" textLength="6.9" lengthAdjust="spacingAndGlyphs">80</text>
<path d="M25.2 274.5h3" stroke="#222" stroke-width="1"/>
<text class="t" x="21.6" y="277.75" text-anchor="end" textLength="10.35" lengthAdjust="spacingAndGlyphs">100</text>
<path d="M25.2 257.5h3" stroke="#222" stroke-width="1"/>
<text class="t" x="21.6" y="260.4" text-anchor="end" textLength="10.35" lengthAdjust="spacingAndGlyphs">120</text>
<path d="M25.2 239.5h3" stroke="#222" stroke-width="1"/>
<text class="t" x="21.6" y="243.05" text-anchor="end" textLength="10.35" lengthAdjust="spacingAndGlyphs">140</text>
<path d="M25.2 222.5h3" stroke="#222" stroke-width="1"/>
<text class="t" x="21.6" y="225.7" text-anchor="end" textLength="10.35" lengthAdjust="spacingAndGlyphs">160</text>
<path d="M26.5 361.35v-3" stroke="#222" stroke-width="1"/>
<text class="t" x="26.7" y="371.1" text-anchor="middle" textLength="3.45" lengthAdjust="spacingAndGlyphs">0</text>
<path d="M118.5 361.35v-3" stroke="#222" stroke-width="1"/>
<text class="t" x="118.65" y="371.1" text-anchor="middle" textLength="6.9" lengthAdjust="spacingAndGlyphs">50</text>
<path d="M210.5 361.35v-3" stroke="#222" stroke-width="1"/>
<text class="t" x="210.6" y="371.1" text-anchor="middle" textLength="10.35" lengthAdjust="spacingAndGlyphs">100</text>
<path d="M25.5 213.3H39.7" stroke="#666" stroke-width="1.3"/>
<text class="m" x="42.7" y="215.8" font-size="7.8" textLength="7.5" lengthAdjust="spacingAndGlyphs">BP</text>
<path d="M25.5 221.2H39.7" stroke="#ee7a7e" stroke-width="1.3"/>
<text class="m" x="42.7" y="223.7" font-size="7.8" textLength="18.75" lengthAdjust="spacingAndGlyphs">KF-BP</text>
<path d="M25.5 228.4H39.7" stroke="#6d9ce6" stroke-width="1.3"/>
<text class="m" x="42.7" y="230.9" font-size="7.8" textLength="15" lengthAdjust="spacingAndGlyphs">LSTM</text>
<path d="M25.5 236.3H39.7" stroke="#4fb37a" stroke-width="1.3"/>
<text class="m" x="42.7" y="238.8" font-size="7.8" textLength="26.25" lengthAdjust="spacingAndGlyphs">KF-LSTM</text>
<text class="m" font-size="8" transform="translate(11.5 286.65) rotate(-90)" x="0" y="0" text-anchor="middle" textLength="35.7" lengthAdjust="spacingAndGlyphs">error (cm)</text>
<text class="m" font-size="8" x="101.2" y="377.6" textLength="34.8" lengthAdjust="spacingAndGlyphs">dot number</text>
<text class="c" x="101.1" y="399.7" textLength="17.7" lengthAdjust="spacingAndGlyphs">(d)</text>
<polyline points="258.88,330.74 260.76,307.22 262.64,354.44 264.52,240.19 266.4,290.65 268.29,341.11 270.17,226.11 272.05,339.86 273.93,297.59 275.81,345.56 277.69,320.09 279.57,294.63 281.45,339.22 283.33,339.86 285.21,341.11 287.1,354.73 288.98,337.31 290.86,358.3 292.74,350.24 294.62,349.83 296.5,349.42 298.38,257.96 300.26,316.85 302.14,319.07 304.02,339.63 305.91,299.81 307.79,320.36 309.67,340.91 311.55,336.68 313.43,336.14 315.31,354.44 317.19,346.23 319.07,347.23 320.95,228.33 322.83,324.81 324.72,339.63 326.6,277.15 328.48,342.37 330.36,335.08 332.24,338.8 334.12,349.18 336,279.81 337.88,337.56 339.76,323.06 341.64,334.55 343.53,332.97 345.41,329.25 347.29,333.6 349.17,330.74 351.05,312.41 352.93,335.93 354.81,324.81 356.69,349.6 358.57,304.7 360.45,305.74 362.34,352.6 364.22,339.63 366.1,238.7 367.98,351.48 369.86,360.04 371.74,294.33 373.62,332.22 375.5,268.04 377.38,344.7 379.26,340.93 381.15,350 383.03,343.05 384.91,303.52 386.79,329.74 388.67,283.96 390.55,339.63 392.43,352.6 394.31,346.12 396.19,339.63 398.07,303.22 399.96,309.44 401.84,320.83 403.72,332.22 405.6,327.78 407.48,344.09 409.36,323.95 411.24,303.81 413.12,353.67 415,330.74 416.88,324.86 418.77,318.98 420.65,316.85 422.53,243.89 424.41,357.41 426.29,339.86 428.17,339.63 430.05,319.81 431.93,339.44 433.81,327.78 435.69,336.67 437.58,324.81 439.46,286.48 441.34,324.24 443.22,362.01 445.1,226.56" fill="none" stroke="#595959" stroke-width="1.15" stroke-linejoin="miter" stroke-miterlimit="10"/>
<polyline points="258.88,344.11 260.76,348.36 262.64,357.91 264.52,356.85 266.4,334.02 268.29,351.54 270.17,355.79 272.05,347.3 273.93,353.67 275.81,348.36 277.69,353.67 279.57,356.32 281.45,353.67 283.33,357.91 285.21,351.54 287.1,354.73 288.98,356.85 290.86,352.6 292.74,340.93 294.62,345.17 296.5,355.79 298.38,339.86 300.26,353.67 302.14,346.23 304.02,346.23 305.91,336.15 307.79,351.54 309.67,354.73 311.55,351.54 313.43,356.85 315.31,348.36 317.19,354.73 319.07,346.23 320.95,351.54 322.83,361.1 324.72,340.93 326.6,361.1 328.48,356.85 330.36,347.3 332.24,351.54 334.12,350.48 336,352.6 337.88,352.6 339.76,348.36 341.64,357.91 343.53,360.04 345.41,341.99 347.29,335.62 349.17,352.6 351.05,352.07 352.93,347.3 354.81,356.85 356.69,349.42 358.57,354.73 360.45,346.23 362.34,333.49 364.22,340.93 366.1,351.54 367.98,341.99 369.86,346.23 371.74,353.67 373.62,347.3 375.5,343.05 377.38,351.54 379.26,350.48 381.15,349.42 383.03,343.05 384.91,352.6 386.79,349.42 388.67,341.99 390.55,345.7 392.43,332.43 394.31,346.23 396.19,355.79 398.07,354.73 399.96,353.67 401.84,351.54 403.72,337.74 405.6,331.37 407.48,353.67 409.36,352.6 411.24,344.11 413.12,338.8 415,352.6 416.88,338.8 418.77,345.17 420.65,352.6 422.53,348.36 424.41,340.4 426.29,341.99 428.17,335.62 430.05,343.05 431.93,337.74 433.81,345.17 435.69,344.11 437.58,341.99 439.46,335.62 441.34,337.74 443.22,335.62 445.1,331.37" fill="none" stroke="#e2454a" stroke-width="1.15" stroke-linejoin="miter" stroke-miterlimit="10"/>
<polyline points="258.88,347.83 260.76,348.36 262.64,356.85 264.52,358.98 266.4,335.62 268.29,318.63 270.17,346.23 272.05,346.23 273.93,354.73 275.81,330.84 277.69,360.04 279.57,356.85 281.45,352.6 283.33,365.88 285.21,350.48 287.1,353.67 288.98,363.22 290.86,316.51 292.74,338.27 294.62,360.04 296.5,349.42 298.38,350.48 300.26,353.67 302.14,356.85 304.02,349.42 305.91,337.74 307.79,351.54 309.67,354.73 311.55,353.67 313.43,339.86 315.31,331.37 317.19,322.88 319.07,356.85 320.95,346.23 322.83,344.11 324.72,351.54 326.6,328.19 328.48,356.85 330.36,354.73 332.24,354.73 334.12,349.42 336,356.85 337.88,350.48 339.76,335.62 341.64,351.54 343.53,357.91 345.41,346.23 347.29,352.6 349.17,336.68 351.05,351.54 352.93,358.98 354.81,361.1 356.69,346.23 358.57,353.67 360.45,349.42 362.34,346.23 364.22,340.93 366.1,353.67 367.98,347.3 369.86,344.11 371.74,356.85 373.62,347.3 375.5,346.23 377.38,340.93 379.26,352.6 381.15,358.98 383.03,347.3 384.91,354.73 386.79,343.05 388.67,328.19 390.55,340.93 392.43,336.68 394.31,335.62 396.19,340.93 398.07,351.54 399.96,337.74 401.84,350.48 403.72,353.67 405.6,358.98 407.48,354.73 409.36,355.79 411.24,355.79 413.12,357.91 415,361.1 416.88,339.86 418.77,349.42 420.65,353.67 422.53,353.67 424.41,350.48 426.29,343.05 428.17,340.93 430.05,344.11 431.93,331.9 433.81,334.56 435.69,343.05 437.58,354.73 439.46,346.23 441.34,344.11 443.22,351.54 445.1,336.68" fill="none" stroke="#3573d9" stroke-width="1.15" stroke-linejoin="miter" stroke-miterlimit="10"/>
<polyline points="258.88,348.36 260.76,364.28 262.64,365.35 264.52,360.04 266.4,356.85 268.29,357.91 270.17,361.1 272.05,357.91 273.93,353.67 275.81,360.04 277.69,364.28 279.57,365.35 281.45,360.04 283.33,352.6 285.21,361.1 287.1,360.04 288.98,356.85 290.86,362.16 292.74,337.74 294.62,361.1 296.5,358.98 298.38,358.98 300.26,356.85 302.14,355.79 304.02,360.04 305.91,353.67 307.79,352.6 309.67,358.98 311.55,360.04 313.43,358.98 315.31,356.85 317.19,363.22 319.07,355.79 320.95,354.73 322.83,361.1 324.72,347.83 326.6,355.79 328.48,355.79 330.36,360.04 332.24,363.22 334.12,357.91 336,365.35 337.88,356.85 339.76,347.3 341.64,364.28 343.53,357.91 345.41,356.85 347.29,355.79 349.17,362.16 351.05,361.1 352.93,360.04 354.81,365.35 356.69,358.98 358.57,356.85 360.45,357.91 362.34,353.67 364.22,358.98 366.1,361.1 367.98,356.85 369.86,353.67 371.74,360.04 373.62,352.6 375.5,348.36 377.38,351.54 379.26,350.48 381.15,357.91 383.03,353.67 384.91,364.28 386.79,358.98 388.67,351.54 390.55,334.56 392.43,341.99 394.31,355.26 396.19,356.85 398.07,359.51 399.96,362.16 401.84,362.16 403.72,363.22 405.6,361.63 407.48,363.22 409.36,360.04 411.24,356.85 413.12,360.04 415,365.35 416.88,363.22 418.77,361.1 420.65,365.88 422.53,356.85 424.41,345.17 426.29,352.6 428.17,350.48 430.05,349.42 431.93,344.11 433.81,343.05 435.69,347.3 437.58,358.98 439.46,346.23 441.34,334.56 443.22,352.6 445.1,358.98" fill="none" stroke="#23a055" stroke-width="1.15" stroke-linejoin="miter" stroke-miterlimit="10"/>
<path d="M255.5 211.6H447.1" stroke="#555" stroke-width="1.1" fill="none"/>
<path d="M255.5 211.6V367.4H447.1V211.6" stroke="#444" stroke-width="1.15" fill="none"/>
<path d="M255.5 367.5h3" stroke="#222" stroke-width="1"/>
<text class="t" x="251.4" y="370.8" text-anchor="end" textLength="3.45" lengthAdjust="spacingAndGlyphs">0</text>
<path d="M255.5 352.5h3" stroke="#222" stroke-width="1"/>
<text class="t" x="251.4" y="355.24" text-anchor="end" textLength="6.9" lengthAdjust="spacingAndGlyphs">20</text>
<path d="M255.5 336.5h3" stroke="#222" stroke-width="1"/>
<text class="t" x="251.4" y="339.68" text-anchor="end" textLength="6.9" lengthAdjust="spacingAndGlyphs">40</text>
<path d="M255.5 321.5h3" stroke="#222" stroke-width="1"/>
<text class="t" x="251.4" y="324.12" text-anchor="end" textLength="6.9" lengthAdjust="spacingAndGlyphs">60</text>
<path d="M255.5 305.5h3" stroke="#222" stroke-width="1"/>
<text class="t" x="251.4" y="308.56" text-anchor="end" textLength="6.9" lengthAdjust="spacingAndGlyphs">80</text>
<path d="M255.5 289.5h3" stroke="#222" stroke-width="1"/>
<text class="t" x="251.4" y="293" text-anchor="end" textLength="10.35" lengthAdjust="spacingAndGlyphs">100</text>
<path d="M255.5 274.5h3" stroke="#222" stroke-width="1"/>
<text class="t" x="251.4" y="277.44" text-anchor="end" textLength="10.35" lengthAdjust="spacingAndGlyphs">120</text>
<path d="M255.5 258.5h3" stroke="#222" stroke-width="1"/>
<text class="t" x="251.4" y="261.88" text-anchor="end" textLength="10.35" lengthAdjust="spacingAndGlyphs">140</text>
<path d="M255.5 243.5h3" stroke="#222" stroke-width="1"/>
<text class="t" x="251.4" y="246.32" text-anchor="end" textLength="10.35" lengthAdjust="spacingAndGlyphs">160</text>
<path d="M255.5 227.5h3" stroke="#222" stroke-width="1"/>
<text class="t" x="251.4" y="230.76" text-anchor="end" textLength="10.35" lengthAdjust="spacingAndGlyphs">180</text>
<path d="M255.5 212.5h3" stroke="#222" stroke-width="1"/>
<text class="t" x="251.4" y="215.2" text-anchor="end" textLength="10.35" lengthAdjust="spacingAndGlyphs">200</text>
<path d="M257.5 367.4v-3" stroke="#222" stroke-width="1"/>
<text class="t" x="257" y="378.1" text-anchor="middle" textLength="3.45" lengthAdjust="spacingAndGlyphs">0</text>
<path d="M351.5 367.4v-3" stroke="#222" stroke-width="1"/>
<text class="t" x="351.05" y="378.1" text-anchor="middle" textLength="6.9" lengthAdjust="spacingAndGlyphs">50</text>
<path d="M445.5 367.4v-3" stroke="#222" stroke-width="1"/>
<text class="t" x="445.1" y="378.1" text-anchor="middle" textLength="10.35" lengthAdjust="spacingAndGlyphs">100</text>
<path d="M256 216H270.8" stroke="#666" stroke-width="1.3"/>
<text class="m" x="274.5" y="218.5" font-size="7.8" textLength="7.5" lengthAdjust="spacingAndGlyphs">BP</text>
<path d="M256 224.1H270.8" stroke="#ee7a7e" stroke-width="1.3"/>
<text class="m" x="274.5" y="226.6" font-size="7.8" textLength="18.75" lengthAdjust="spacingAndGlyphs">KF-BP</text>
<path d="M256 232.3H270.8" stroke="#6d9ce6" stroke-width="1.3"/>
<text class="m" x="274.5" y="234.8" font-size="7.8" textLength="15" lengthAdjust="spacingAndGlyphs">LSTM</text>
<path d="M256 240.3H270.8" stroke="#4fb37a" stroke-width="1.3"/>
<text class="m" x="274.5" y="242.8" font-size="7.8" textLength="26.25" lengthAdjust="spacingAndGlyphs">KF-LSTM</text>
<text class="m" font-size="8" transform="translate(241.1 291.1) rotate(-90)" x="0" y="0" text-anchor="middle" textLength="38" lengthAdjust="spacingAndGlyphs">error (cm)</text>
<text class="m" font-size="8" x="332.7" y="380.8" textLength="36.3" lengthAdjust="spacingAndGlyphs">dot number</text>
<text class="c" x="335.1" y="400.75" textLength="15.3" lengthAdjust="spacingAndGlyphs">(e)</text>
<polyline points="492.48,334.44 494.37,351.48 496.25,338.43 498.13,325.37 500.02,347.04 501.9,332.87 503.78,350 505.66,348.52 507.55,348.89 509.43,349.26 511.31,310.56 513.2,315 515.08,279.81 516.96,348.52 518.85,339.63 520.73,345.56 522.61,323.89 524.49,338.15 526.38,347.04 528.26,321.76 530.14,296.48 532.03,313.52 533.91,320.93 535.79,335.19 537.68,329.54 539.56,323.89 541.44,329.81 543.32,331.3 545.21,300.19 547.09,339.63 548.97,350 550.86,360.37 552.74,329.81 554.62,333.7 556.5,329.07 558.39,339.63 560.27,335.19 562.15,343.3 564.04,315 565.92,347.04 567.8,311.06 569.69,275.07 571.57,345.56 573.45,347.04 575.34,265 577.22,338.15 579.1,239.07 580.98,347.78 582.87,346.67 584.75,345.56 586.63,335.93 588.52,334.07 590.4,328.28 592.28,341.36 594.16,354.44 596.05,320.28 597.93,286.11 599.81,292.78 601.7,324.35 603.58,355.93 605.46,341.11 607.35,347.04 609.23,348.52 611.11,350 613,351.48 614.88,327.69 616.76,345.56 618.64,327.69 620.53,309.81 622.41,341.11 624.29,323.15 626.18,333.7 628.06,336.67 629.94,328.43 631.83,320.19 633.71,345.56 635.59,339.63 637.47,332.87 639.36,326.11 641.24,325.37 643.12,339.37 645.01,310.56 646.89,362.59 648.77,351.85 650.65,341.11 652.54,345.67 654.42,276.11 656.3,304.63 658.19,322.13 660.07,324.81 661.95,317.69 663.84,310.56 665.72,341.11 667.6,341.85 669.49,338.15 671.37,344.48 673.25,317.22 675.13,347.04 677.02,295.74 678.9,289.81" fill="none" stroke="#595959" stroke-width="1.15" stroke-linejoin="miter" stroke-miterlimit="10"/>
<polyline points="492.48,360.37 494.37,358.89 496.25,361.11 498.13,357.78 500.02,354.44 501.9,355.19 503.78,357.41 505.66,358.89 507.55,351.48 509.43,354.44 511.31,348.52 513.2,352.96 515.08,362.59 516.96,357.41 518.85,359.74 520.73,357.41 522.61,358.89 524.49,354.44 526.38,360.37 528.26,358.89 530.14,332.22 532.03,354.44 533.91,343.33 535.79,354.44 537.68,358.89 539.56,355.93 541.44,348.52 543.32,342.59 545.21,347.78 547.09,346.3 548.97,357.96 550.86,352.96 552.74,357.41 554.62,351.48 556.5,354.44 558.39,347.04 560.27,355.59 562.15,344.07 564.04,347.04 565.92,352.96 567.8,335.19 569.69,361.11 571.57,331.48 573.45,351.48 575.34,358.89 577.22,357.41 579.1,355.93 580.98,358.89 582.87,353.7 584.75,355.93 586.63,354.07 588.52,351.48 590.4,350 592.28,357.37 594.16,351.48 596.05,354.44 597.93,357.41 599.81,360.37 601.7,361.85 603.58,360.37 605.46,362.59 607.35,354.44 609.23,361.85 611.11,361.48 613,361.11 614.88,358.89 616.76,359.63 618.64,361.11 620.53,360.37 622.41,358.15 624.29,355.93 626.18,354.44 628.06,352.96 629.94,347.04 631.83,354.81 633.71,362.59 635.59,346.3 637.47,357.41 639.36,351.48 641.24,348.52 643.12,360.33 645.01,358.89 646.89,361.85 648.77,358.89 650.65,357.41 652.54,355.93 654.42,360.37 656.3,359.63 658.19,358.89 660.07,359.63 661.95,354.44 663.84,339.63 665.72,351.48 667.6,354.44 669.49,352.96 671.37,353.7 673.25,354.44 675.13,352.96 677.02,344.81 678.9,355.93" fill="none" stroke="#e2454a" stroke-width="1.15" stroke-linejoin="miter" stroke-miterlimit="10"/>
<polyline points="492.48,358.15 494.37,358.89 496.25,355.93 498.13,351.48 500.02,357.41 501.9,358.89 503.78,358.52 505.66,358.15 507.55,357.41 509.43,354.44 511.31,350 513.2,347.04 515.08,353.37 516.96,344.07 518.85,355.93 520.73,358.89 522.61,356.67 524.49,354.44 526.38,358.89 528.26,355.93 530.14,338.15 532.03,355.93 533.91,350 535.79,353.7 537.68,357.41 539.56,347.04 541.44,341.11 543.32,336.67 545.21,333.7 547.09,341.11 548.97,338.15 550.86,344.07 552.74,345.56 554.62,347.04 556.5,345.56 558.39,350 560.27,324.81 562.15,339.63 564.04,342.59 565.92,345.56 567.8,354.44 569.69,332.22 571.57,344.07 573.45,355.93 575.34,352.96 577.22,347.04 579.1,341.11 580.98,360.37 582.87,353.33 584.75,353.7 586.63,355.19 588.52,358.89 590.4,350 592.28,354.56 594.16,323.33 596.05,354.44 597.93,349.26 599.81,354.44 601.7,357.41 603.58,355.93 605.46,354.44 607.35,352.96 609.23,346.3 611.11,354.44 613,355.93 614.88,352.96 616.76,347.04 618.64,354.44 620.53,357.41 622.41,347.41 624.29,337.41 626.18,350 628.06,347.04 629.94,353.37 631.83,329.26 633.71,354.44 635.59,354.44 637.47,354.44 639.36,347.41 641.24,340.37 643.12,354.44 645.01,358.89 646.89,355.93 648.77,356.93 650.65,331.48 652.54,345.56 654.42,348.52 656.3,351.48 658.19,340 660.07,328.52 661.95,351.48 663.84,344.07 665.72,354.44 667.6,352.22 669.49,350 671.37,351.48 673.25,350.74 675.13,354.44 677.02,351.48 678.9,354.44" fill="none" stroke="#3573d9" stroke-width="1.15" stroke-linejoin="miter" stroke-miterlimit="10"/>
<polyline points="492.48,361.11 494.37,364.07 496.25,364.07 498.13,363.7 500.02,363.33 501.9,362.59 503.78,361.11 505.66,360.37 507.55,361.11 509.43,358.89 511.31,361.22 513.2,354.44 515.08,361.85 516.96,363.33 518.85,361.11 520.73,362.59 522.61,360.74 524.49,358.89 526.38,361.11 528.26,363.33 530.14,355.93 532.03,361.85 533.91,355.93 535.79,358.89 537.68,361.85 539.56,360.37 541.44,347.78 543.32,339.63 545.21,351.48 547.09,357.41 548.97,354.81 550.86,352.22 552.74,354.44 554.62,357.41 556.5,351.48 558.39,352.96 560.27,352.22 562.15,351.48 564.04,354.44 565.92,358.89 567.8,352.22 569.69,358.89 571.57,354.44 573.45,358.15 575.34,361.85 577.22,357.41 579.1,356.67 580.98,361.48 582.87,360.74 584.75,360 586.63,360.37 588.52,362.22 590.4,360.37 592.28,361.81 594.16,338.89 596.05,357.41 597.93,361.85 599.81,360.37 601.7,362.11 603.58,361.11 605.46,363.33 607.35,347.04 609.23,357.41 611.11,357.41 613,354.44 614.88,360.04 616.76,355.93 618.64,358.89 620.53,358.15 622.41,360.37 624.29,358.89 626.18,356.67 628.06,354.44 629.94,359.44 631.83,332.22 633.71,355.93 635.59,355.93 637.47,355.93 639.36,356.67 641.24,355.93 643.12,360.33 645.01,356.67 646.89,360.37 648.77,351.48 650.65,354.44 652.54,347.04 654.42,354.44 656.3,357.41 658.19,357.41 660.07,356.3 661.95,355.19 663.84,357.41 665.72,355.93 667.6,358.89 669.49,357.41 671.37,360.63 673.25,352.96 675.13,358.89 677.02,348.52 678.9,355.19" fill="none" stroke="#23a055" stroke-width="1.15" stroke-linejoin="miter" stroke-miterlimit="10"/>
<path d="M489 211.6H679.9" stroke="#555" stroke-width="1.1" fill="none"/>
<path d="M489 211.6V365.3H679.9V211.6" stroke="#444" stroke-width="1.15" fill="none"/>
<path d="M489 365.5h3" stroke="#222" stroke-width="1"/>
<text class="t" x="485.2" y="368.8" text-anchor="end" textLength="3.45" lengthAdjust="spacingAndGlyphs">0</text>
<path d="M489 343.5h3" stroke="#222" stroke-width="1"/>
<text class="t" x="485.2" y="346.88" text-anchor="end" textLength="6.9" lengthAdjust="spacingAndGlyphs">50</text>
<path d="M489 321.5h3" stroke="#222" stroke-width="1"/>
<text class="t" x="485.2" y="324.97" text-anchor="end" textLength="10.35" lengthAdjust="spacingAndGlyphs">100</text>
<path d="M489 299.5h3" stroke="#222" stroke-width="1"/>
<text class="t" x="485.2" y="303.06" text-anchor="end" textLength="10.35" lengthAdjust="spacingAndGlyphs">150</text>
<path d="M489 278.5h3" stroke="#222" stroke-width="1"/>
<text class="t" x="485.2" y="281.14" text-anchor="end" textLength="10.35" lengthAdjust="spacingAndGlyphs">200</text>
<path d="M489 256.5h3" stroke="#222" stroke-width="1"/>
<text class="t" x="485.2" y="259.23" text-anchor="end" textLength="10.35" lengthAdjust="spacingAndGlyphs">250</text>
<path d="M489 234.5h3" stroke="#222" stroke-width="1"/>
<text class="t" x="485.2" y="237.31" text-anchor="end" textLength="10.35" lengthAdjust="spacingAndGlyphs">300</text>
<path d="M489 212.5h3" stroke="#222" stroke-width="1"/>
<text class="t" x="485.2" y="215.39" text-anchor="end" textLength="10.35" lengthAdjust="spacingAndGlyphs">350</text>
<path d="M490.5 365.3v-3" stroke="#222" stroke-width="1"/>
<text class="t" x="490.6" y="375.7" text-anchor="middle" textLength="3.45" lengthAdjust="spacingAndGlyphs">0</text>
<path d="M584.5 365.3v-3" stroke="#222" stroke-width="1"/>
<text class="t" x="584.75" y="375.7" text-anchor="middle" textLength="6.9" lengthAdjust="spacingAndGlyphs">50</text>
<path d="M678.5 365.3v-3" stroke="#222" stroke-width="1"/>
<text class="t" x="678.9" y="375.7" text-anchor="middle" textLength="10.35" lengthAdjust="spacingAndGlyphs">100</text>
<path d="M489.5 216.4H504.2" stroke="#666" stroke-width="1.3"/>
<text class="m" x="507.7" y="218.9" font-size="7.8" textLength="7.5" lengthAdjust="spacingAndGlyphs">BP</text>
<path d="M489.5 224.2H504.2" stroke="#ee7a7e" stroke-width="1.3"/>
<text class="m" x="507.7" y="226.7" font-size="7.8" textLength="18.75" lengthAdjust="spacingAndGlyphs">KF-BP</text>
<path d="M489.5 231.8H504.2" stroke="#6d9ce6" stroke-width="1.3"/>
<text class="m" x="507.7" y="234.3" font-size="7.8" textLength="15" lengthAdjust="spacingAndGlyphs">LSTM</text>
<path d="M489.5 239.6H504.2" stroke="#4fb37a" stroke-width="1.3"/>
<text class="m" x="507.7" y="242.1" font-size="7.8" textLength="26.25" lengthAdjust="spacingAndGlyphs">KF-LSTM</text>
<text class="m" font-size="8" transform="translate(473.8 290.6) rotate(-90)" x="0" y="0" text-anchor="middle" textLength="35.6" lengthAdjust="spacingAndGlyphs">error (cm)</text>
<text class="m" font-size="8" x="566.5" y="380.4" textLength="35.7" lengthAdjust="spacingAndGlyphs">dot number</text>
<text class="c" x="569.3" y="399.6" textLength="12.9" lengthAdjust="spacingAndGlyphs">(f)</text>
</svg></body></html>
